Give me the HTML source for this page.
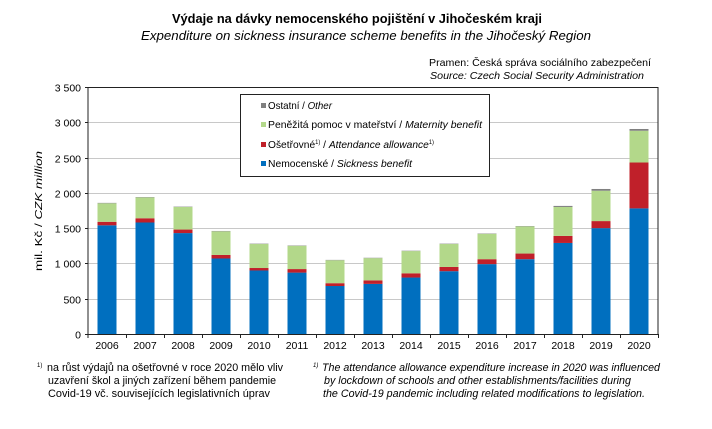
<!DOCTYPE html>
<html><head><meta charset="utf-8"><style>
body{margin:0;background:#fff;}
svg{display:block;font-family:"Liberation Sans",Arial,sans-serif;}
</style></head><body>
<svg id="s" width="712" height="429" viewBox="0 0 712 429" xmlns="http://www.w3.org/2000/svg">
<text x="172" y="23" font-size="13" font-weight="bold" textLength="370" lengthAdjust="spacingAndGlyphs">Výdaje na dávky nemocenského pojištění v Jihočeském kraji</text>
<text x="141" y="40" font-size="12.5" font-style="italic" textLength="450" lengthAdjust="spacingAndGlyphs">Expenditure on sickness insurance scheme benefits in the Jihočeský Region</text>
<text x="429" y="66" font-size="10.5" textLength="222" lengthAdjust="spacingAndGlyphs">Pramen: Česká správa sociálního zabezpečení</text>
<text x="430" y="79" font-size="10.5" font-style="italic" textLength="214" lengthAdjust="spacingAndGlyphs">Source: Czech Social Security Administration</text>
<g id="grid"></g>
<g id="bars"></g>
<line x1="88" y1="87.5" x2="658" y2="87.5" stroke="#222" stroke-width="1"/>
<line x1="658" y1="87" x2="658" y2="334" stroke="#222" stroke-width="1"/>
<line x1="88" y1="87" x2="88" y2="338" stroke="#222" stroke-width="1"/>
<line x1="86" y1="334.5" x2="658" y2="334.5" stroke="#222" stroke-width="1"/>
<g id="ticks"></g>
<text transform="translate(42,211) rotate(-90)" text-anchor="middle" font-size="10" textLength="120" lengthAdjust="spacingAndGlyphs">mil. Kč / <tspan font-style="italic">CZK million</tspan></text>
<rect x="240.5" y="94.5" width="249" height="82" fill="#fff" stroke="#222" stroke-width="1"/>
<rect x="261" y="103" width="5" height="5" fill="#808080"/>
<text x="268" y="109" font-size="10.5" textLength="64" lengthAdjust="spacingAndGlyphs">Ostatní / <tspan font-style="italic">Other</tspan></text>
<rect x="261" y="122" width="5" height="5" fill="#b3d88a"/>
<text x="268" y="128" font-size="10.5" textLength="214" lengthAdjust="spacingAndGlyphs">Peněžitá pomoc v mateřství / <tspan font-style="italic">Maternity benefit</tspan></text>
<rect x="261" y="142" width="5" height="5" fill="#c0202a"/>
<text x="268" y="148" font-size="10.5" textLength="166" lengthAdjust="spacingAndGlyphs">Ošetřovné<tspan font-size="6" dy="-4">1)</tspan><tspan dy="4"> / </tspan><tspan font-style="italic">Attendance allowance</tspan><tspan font-size="6" dy="-4">1)</tspan></text>
<rect x="261" y="161" width="5" height="5" fill="#006fbf"/>
<text x="268" y="167" font-size="10.5" textLength="144" lengthAdjust="spacingAndGlyphs">Nemocenské / <tspan font-style="italic">Sickness benefit</tspan></text>
<g font-size="11">
<text x="37" y="367" font-size="6">1)</text>
<text x="47" y="371" textLength="236" lengthAdjust="spacingAndGlyphs">na růst výdajů na ošetřovné v roce 2020 mělo vliv</text>
<text x="48" y="384" textLength="228" lengthAdjust="spacingAndGlyphs">uzavření škol a jiných zařízení během pandemie</text>
<text x="48" y="397" textLength="222" lengthAdjust="spacingAndGlyphs">Covid-19 vč. souvisejících legislativních úprav</text>
<g font-style="italic">
<text x="313" y="367" font-size="6">1)</text>
<text x="322" y="371" textLength="338" lengthAdjust="spacingAndGlyphs">The attendance allowance expenditure increase in 2020 was influenced</text>
<text x="324" y="384" textLength="307" lengthAdjust="spacingAndGlyphs">by lockdown of schools and other establishments/facilities during</text>
<text x="323" y="397" textLength="322" lengthAdjust="spacingAndGlyphs">the Covid-19 pandemic including related modifications to legislation.</text>
</g></g>
</svg>
<script>
var ns="http://www.w3.org/2000/svg";
function el(p,t,a,txt){var e=document.createElementNS(ns,t);for(var k in a)e.setAttribute(k,a[k]);if(txt)e.textContent=txt;document.getElementById(p).appendChild(e);}
function Y(v){return 334-v*247/3500;}
for(var v=0;v<=3500;v+=500){var y=Math.round(Y(v))+0.5;if(v>0&&v<3500)el("grid","line",{x1:88,x2:658,y1:y,y2:y,stroke:"#c8c8c8","stroke-width":1});
el("ticks","line",{x1:85,x2:88,y1:y,y2:y,stroke:"#222"});
el("ticks","text",{x:81,y:y+4,"text-anchor":"end","font-size":"10.5"},v>=1000?(Math.floor(v/1000)+" "+String(v%1000).padStart(3,"0")):String(v));}
var d=[[1540,1590,1852,1858],[1580,1640,1935,1940],[1430,1480,1800,1805],[1070,1120,1455,1460],[900,935,1275,1280],[870,920,1250,1255],[680,720,1045,1050],[710,760,1075,1080],[800,860,1175,1180],[890,950,1275,1280],[990,1060,1420,1425],[1060,1140,1525,1530],[1290,1390,1800,1815],[1500,1600,2030,2055],[1780,2430,2880,2905]];
var cols=["#006fbf","#c0202a","#b3d88a","#808080"];
for(var i=0;i<15;i++){var x=88+38*i+9.5,prev=0;
for(var j=0;j<4;j++){var t=d[i][j];el("bars","rect",{x:x,width:19,y:Y(t),height:Y(prev)-Y(t),fill:cols[j]});prev=t;}
el("ticks","text",{x:88+38*i+19,y:349,"text-anchor":"middle","font-size":"10.5"},String(2006+i));
el("ticks","line",{x1:88+38*(i+1)+0.5,x2:88+38*(i+1)+0.5,y1:334,y2:338,stroke:"#222"});}
</script>
</body></html>
